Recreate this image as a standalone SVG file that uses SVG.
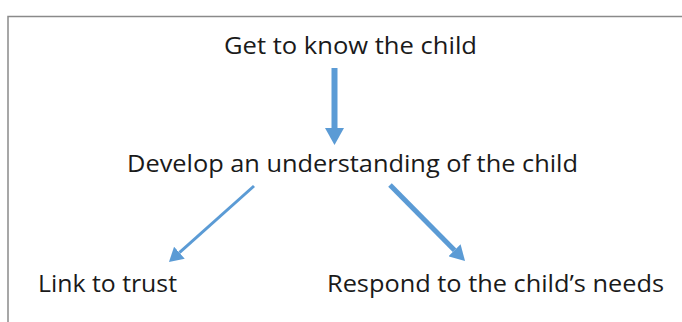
<svg xmlns="http://www.w3.org/2000/svg" width="682" height="322" viewBox="0 0 682 322">
  <style>
    .lbl { font-family: "Open Sans", "Noto Sans", "Liberation Sans", sans-serif; font-size: 24px; fill: #1a1a1a; }
    .arr { stroke: #5B9BD5; fill: none; stroke-linecap: butt; }
    .frame { stroke: #8a8a8a; stroke-width: 1.5; fill: none; }
  </style>
  <defs>
    <marker id="mV" markerUnits="userSpaceOnUse" markerWidth="17" markerHeight="19" refX="0" refY="9.5" orient="auto">
      <path d="M0,0 L17,9.5 L0,19 z" fill="#5B9BD5"/>
    </marker>
    <marker id="mL" markerUnits="userSpaceOnUse" markerWidth="14" markerHeight="16" refX="0" refY="8" orient="auto">
      <path d="M0,0 L14,8 L0,16 z" fill="#5B9BD5"/>
    </marker>
    <marker id="mR" markerUnits="userSpaceOnUse" markerWidth="15" markerHeight="17" refX="0" refY="8.5" orient="auto">
      <path d="M0,0 L15,8.5 L0,17 z" fill="#5B9BD5"/>
    </marker>
  </defs>
  <rect width="682" height="322" fill="#ffffff"/>
  <path class="frame" d="M8,322 L8,16.5 L682,16.5"/>
  <g id="connectors">
    <line class="arr" x1="334.5" y1="68" x2="334.5" y2="128" stroke-width="6" marker-end="url(#mV)"/>
    <line class="arr" x1="254" y1="186" x2="179.4" y2="252.7" stroke-width="3" marker-end="url(#mL)"/>
    <line class="arr" x1="390" y1="185" x2="454.5" y2="250.3" stroke-width="5" marker-end="url(#mR)"/>
  </g>
  <g id="node-know">
    <text class="lbl" x="224" y="54" textLength="253" lengthAdjust="spacingAndGlyphs">Get to know the child</text>
  </g>
  <g id="node-understand">
    <text class="lbl" x="127" y="172" textLength="451" lengthAdjust="spacingAndGlyphs">Develop an understanding of the child</text>
  </g>
  <g id="node-trust">
    <text class="lbl" x="38" y="292" textLength="139" lengthAdjust="spacingAndGlyphs">Link to trust</text>
  </g>
  <g id="node-respond">
    <text class="lbl" x="327" y="292" textLength="337" lengthAdjust="spacingAndGlyphs">Respond to the child’s needs</text>
  </g>
</svg>
